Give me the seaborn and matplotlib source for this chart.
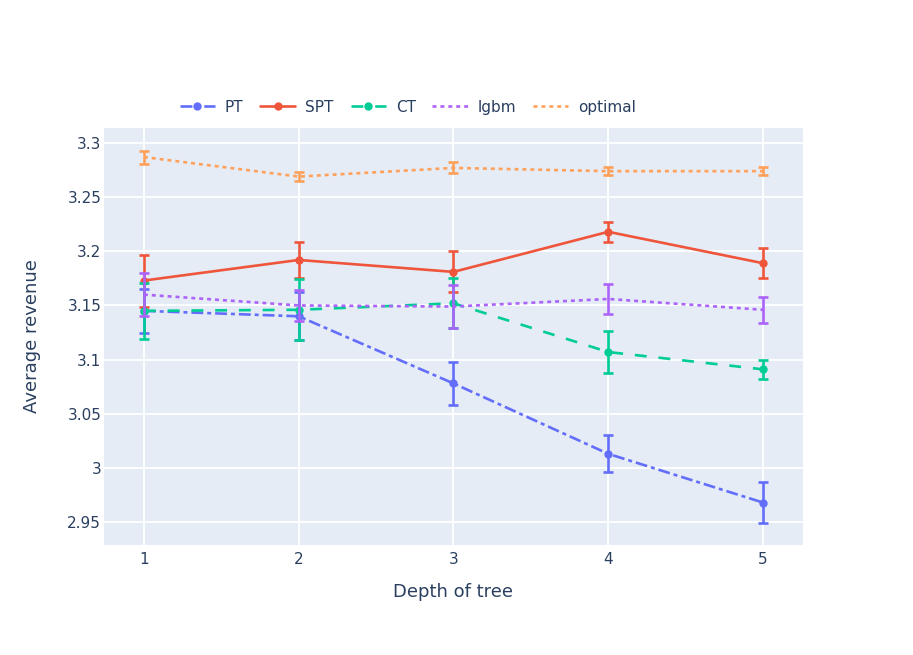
import matplotlib
matplotlib.use("Agg")
import matplotlib.pyplot as plt
import seaborn as sns
import pandas as pd

# values
depth = [1, 2, 3, 4, 5]
pt = [3.145, 3.140, 3.078, 3.013, 2.968]
pt_err = [0.020, 0.022, 0.020, 0.017, 0.019]
spt = [3.173, 3.192, 3.181, 3.218, 3.189]
spt_err = [0.024, 0.017, 0.019, 0.009, 0.014]
ct = [3.145, 3.146, 3.152, 3.107, 3.091]
ct_err = [0.026, 0.028, 0.023, 0.019, 0.009]
lgbm = [3.160, 3.150, 3.149, 3.156, 3.146]
lgbm_err = [0.020, 0.014, 0.020, 0.014, 0.012]
optimal = [3.287, 3.269, 3.277, 3.274, 3.274]
optimal_err = [0.006, 0.004, 0.005, 0.004, 0.004]

series = {
    "PT": (pt, pt_err, "#636EFA", (0, (4.5, 1.5, 1.5, 1.5)), "o"),
    "SPT": (spt, spt_err, "#EF553B", "-", "o"),
    "CT": (ct, ct_err, "#00CC96", (0, (4.5, 4.5)), "o"),
    "lgbm": (lgbm, lgbm_err, "#AB63FA", (0, (1.5, 1.5)), None),
    "optimal": (optimal, optimal_err, "#FFA15A", (0, (1.5, 1.5)), None),
}

sns.set_theme(style="darkgrid")
plt.rcParams["font.family"] = ["DejaVu Sans"]
text_col = "#2a3f5f"
lw = 1.9

fig = plt.figure(figsize=(9.13, 6.55), dpi=100)
ax = fig.add_axes([0.1139, 0.1679, 0.7656, 0.6366])
ax.set_facecolor("#E5ECF6")

for name, (vals, errs, col, ls, mk) in series.items():
    df = pd.DataFrame({"depth": depth, "value": vals})
    sns.lineplot(data=df, x="depth", y="value", ax=ax, color=col, linestyle=ls,
                 linewidth=lw, marker=mk, markersize=6, markeredgewidth=0,
                 label=name, zorder=3)
    ax.errorbar(depth, vals, yerr=errs, fmt="none", ecolor=col, elinewidth=lw,
                capsize=3.7, capthick=lw, zorder=3)

handles, labels = ax.get_legend_handles_labels()
ax.get_legend().remove()
fig.legend(handles, labels, ncol=5, frameon=False, loc="center left",
           bbox_to_anchor=(0.197, 0.8366), fontsize=11, labelcolor=text_col,
           handlelength=2.3, columnspacing=1.1, handletextpad=0.65,
           borderpad=0, borderaxespad=0)

ax.set_xlim(0.742, 5.258)
ax.set_ylim(2.9288, 3.3138)
ax.set_xticks(depth)
ax.set_xticklabels([str(d) for d in depth])
yticks = [2.95, 3.0, 3.05, 3.1, 3.15, 3.2, 3.25, 3.3]
ax.set_yticks(yticks)
ax.set_yticklabels(["2.95", "3", "3.05", "3.1", "3.15", "3.2", "3.25", "3.3"])
ax.grid(True, color="white", linewidth=1.3)
for s in ax.spines.values():
    s.set_visible(False)
ax.tick_params(axis="both", length=0, labelsize=11, colors=text_col)
ax.tick_params(axis="y", pad=2)
ax.tick_params(axis="x", pad=5)
ax.set_xlabel("Depth of tree", fontsize=13, color=text_col)
ax.set_ylabel("Average revenue", fontsize=13, color=text_col)
ax.xaxis.set_label_coords(0.5, -0.113)
ax.yaxis.set_label_coords(-0.103, 0.5)
ax.xaxis.label.set_va("center")
ax.yaxis.label.set_va("center")

fig.patch.set_facecolor("white")
fig.savefig("out.png", dpi=100)
